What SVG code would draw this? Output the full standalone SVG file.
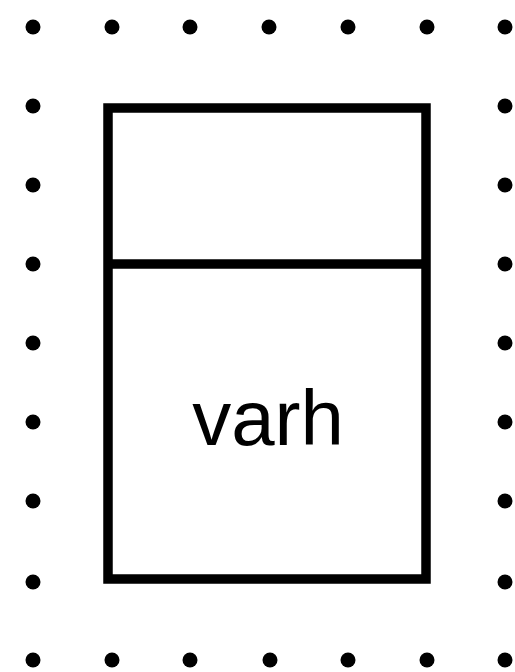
<svg xmlns="http://www.w3.org/2000/svg" width="515" height="672" viewBox="0 0 515 672">
<style>
.dot{fill:#000}
.box{fill:#fff;stroke:#000;stroke-width:9.5}
.lbl{font-family:"Liberation Sans",Arial,sans-serif;font-size:78px;fill:#000;text-anchor:middle}
</style>
<defs><circle id="d" r="7.5" class="dot"/></defs>
<rect width="515" height="672" fill="#fff"/>
<g id="grid">
<use href="#d" x="33" y="27"/><use href="#d" x="112" y="27"/><use href="#d" x="190" y="27"/><use href="#d" x="269" y="27"/><use href="#d" x="348" y="27"/><use href="#d" x="427" y="27"/><use href="#d" x="505" y="27"/>
<use href="#d" x="33" y="106"/><use href="#d" x="33" y="185"/><use href="#d" x="33" y="264"/><use href="#d" x="33" y="343"/><use href="#d" x="33" y="422"/><use href="#d" x="33" y="501"/><use href="#d" x="33" y="582"/>
<use href="#d" x="505" y="106"/><use href="#d" x="505" y="185"/><use href="#d" x="505" y="264"/><use href="#d" x="505" y="343"/><use href="#d" x="505" y="422"/><use href="#d" x="505" y="501"/><use href="#d" x="505" y="582"/>
<use href="#d" x="33" y="660"/><use href="#d" x="112" y="660"/><use href="#d" x="190" y="660"/><use href="#d" x="270" y="660"/><use href="#d" x="348" y="660"/><use href="#d" x="427" y="660"/><use href="#d" x="505" y="660"/>
</g>
<g id="node-varh">
<rect class="box" x="108" y="108" width="318" height="471"/>
<line x1="108" y1="264" x2="426" y2="264" stroke="#000" stroke-width="9.5"/>
<text class="lbl" x="268" y="445">varh</text>
</g>
<g id="connectors"/>
</svg>
